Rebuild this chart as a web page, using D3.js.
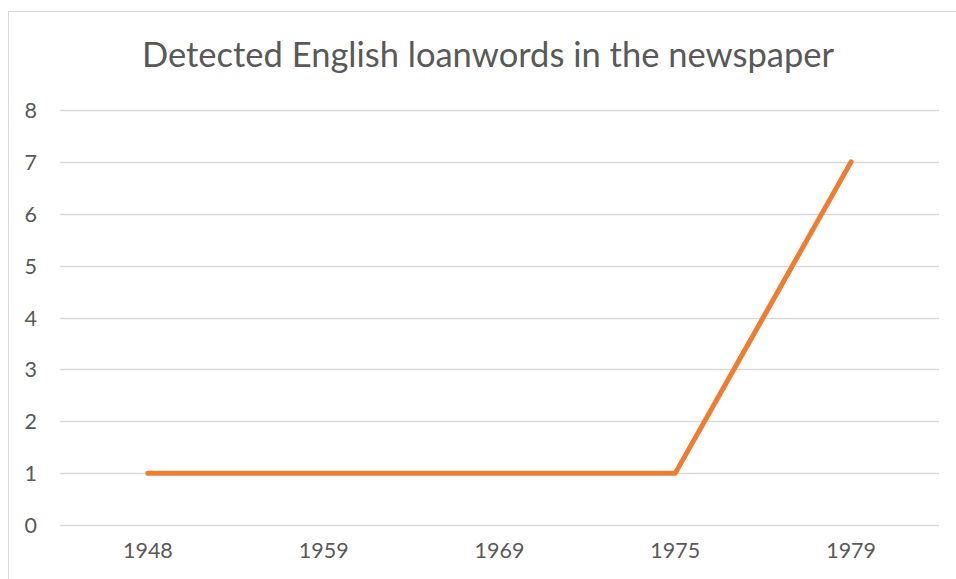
<!DOCTYPE html>
<html><head><meta charset="utf-8">
<script src="https://cdn.jsdelivr.net/npm/d3@7"></script>
<style>html,body{margin:0;padding:0;background:#fff;}</style>
</head><body>
<svg id="chart" width="956" height="579"></svg>
<script>
const title = "Detected English loanwords in the newspaper";
const categories = ["1948", "1959", "1969", "1975", "1979"];
const values = [1, 1, 1, 1, 7];
const yTicks = [0, 1, 2, 3, 4, 5, 6, 7, 8];

const svg = d3.select("#chart");
const font = "Lato, 'Open Sans', sans-serif";
const m = {left: 60, right: 17, top: 110, bottom: 54};
const W = 956, H = 579;

svg.append("rect").attr("x", 8.5).attr("y", 11.5).attr("width", 960).attr("height", 600)
  .attr("fill", "#fff").attr("stroke", "#d9d9d9").attr("stroke-width", 1);

const x = d3.scaleBand().domain(categories).range([m.left, W - m.right]);
const y = d3.scaleLinear().domain([0, 8]).range([H - m.bottom, m.top]);

const grid = svg.append("g");
grid.selectAll("line").data(yTicks).join("line")
  .attr("x1", m.left).attr("x2", W - m.right)
  .attr("y1", d => Math.round(y(d)) + 0.5).attr("y2", d => Math.round(y(d)) + 0.5)
  .attr("stroke", "#d9d9d9").attr("stroke-width", 1.3);

const yAxis = d3.axisLeft(y).tickValues(yTicks).tickSize(0).tickPadding(0);
const ya = svg.append("g").attr("transform", `translate(${37},0)`).call(yAxis);
ya.select(".domain").remove();
ya.selectAll("text").attr("font-family", font).attr("font-size", 21.5).attr("fill", "#595959").attr("dy", "0.35em");

const xAxis = d3.axisBottom(x).tickSize(0).tickPadding(0);
const xa = svg.append("g").attr("transform", `translate(0,${y(0) + 17})`).call(xAxis);
xa.select(".domain").remove();
xa.selectAll("text").attr("font-family", font).attr("font-size", 21.5).attr("fill", "#595959").attr("dy", "0.75em");

const line = d3.line().x((d, i) => x(categories[i]) + x.bandwidth() / 2).y(d => y(d));
svg.append("path").datum(values).attr("d", line)
  .attr("fill", "none").attr("stroke", "#ED7D31").attr("stroke-width", 5)
  .attr("stroke-linejoin", "round").attr("stroke-linecap", "round");

svg.append("text").attr("x", 488).attr("y", 67).attr("text-anchor", "middle")
  .attr("font-family", font).attr("font-size", 34.5).attr("fill", "#595959").text(title);
</script>
</body></html>
